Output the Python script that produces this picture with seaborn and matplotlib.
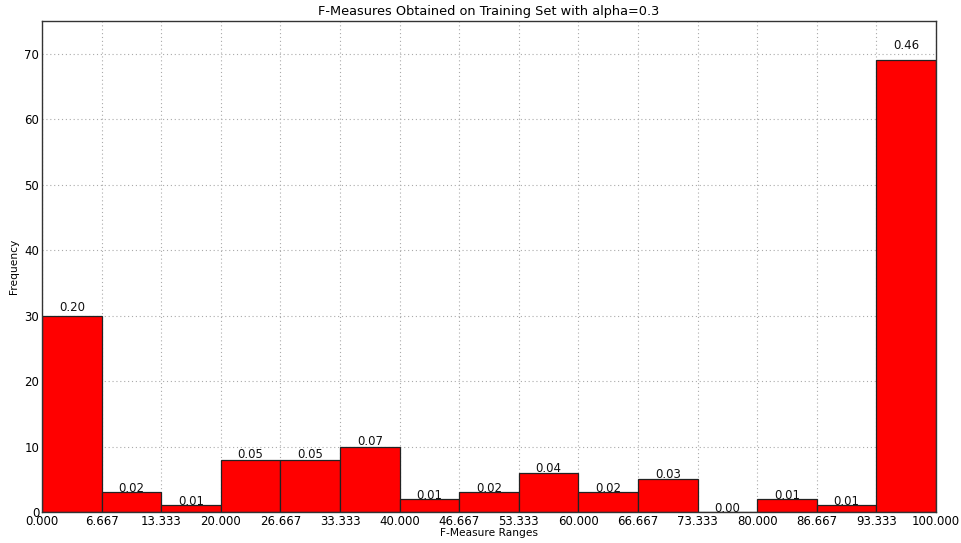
import numpy as np
import pandas as pd
import matplotlib
matplotlib.use("Agg")
import matplotlib.pyplot as plt
import seaborn as sns

# Histogram of F-measure scores (15 equal bins over 0..100)
n_bins = 15
bin_edges = np.linspace(0, 100, n_bins + 1)
counts = [30, 3, 1, 8, 8, 10, 2, 3, 6, 3, 5, 0, 2, 1, 69]
tick_labels = ["%.3f" % e for e in bin_edges]

sns.set_style("white")
plt.rcParams["font.family"] = ["DejaVu Sans"]
plt.rcParams["text.color"] = "black"
plt.rcParams["xtick.color"] = "black"
plt.rcParams["ytick.color"] = "black"
plt.rcParams["axes.labelcolor"] = "black"

fig = plt.figure(figsize=(9.61, 5.43), dpi=100)
ax = fig.add_axes([42 / 961, 31 / 543, (936 - 42) / 961, (512 - 21) / 543])

centers = (bin_edges[:-1] + bin_edges[1:]) / 2
df = pd.DataFrame({"fmeasure": centers, "count": counts})
sns.histplot(data=df, x="fmeasure", weights="count", bins=n_bins, binrange=(0, 100),
             color="#ff0000", edgecolor="#222222", linewidth=0.9, alpha=1.0,
             ax=ax, zorder=2)

# relative frequency written just above each bar
total = sum(counts)
for c, n in zip(centers, counts):
    ax.text(c, n * 1.025, "%.2f" % (n / total), ha="center", va="baseline",
            fontsize=8.5, color="#111111", zorder=3)

ax.set_xlim(0, 100)
ax.set_ylim(0, 75)
ax.set_xticks(bin_edges)
ax.set_xticklabels(tick_labels)
ax.set_yticks(np.arange(0, 71, 10))
ax.tick_params(axis="both", labelsize=8.5, length=0, pad=2)
ax.grid(True, linestyle=(0, (1, 2.5)), color="#aaaaaa", linewidth=0.8, zorder=0)
ax.set_axisbelow(True)
for s in ax.spines.values():
    s.set_color("#333333")
    s.set_linewidth(1.0)

ax.set_title("F-Measures Obtained on Training Set with alpha=0.3", fontsize=9.3, pad=4)
ax.set_xlabel("F-Measure Ranges", fontsize=7.7, labelpad=0)
ax.set_ylabel("Frequency", fontsize=7.7, labelpad=4)

fig.savefig("out.png", dpi=100)
